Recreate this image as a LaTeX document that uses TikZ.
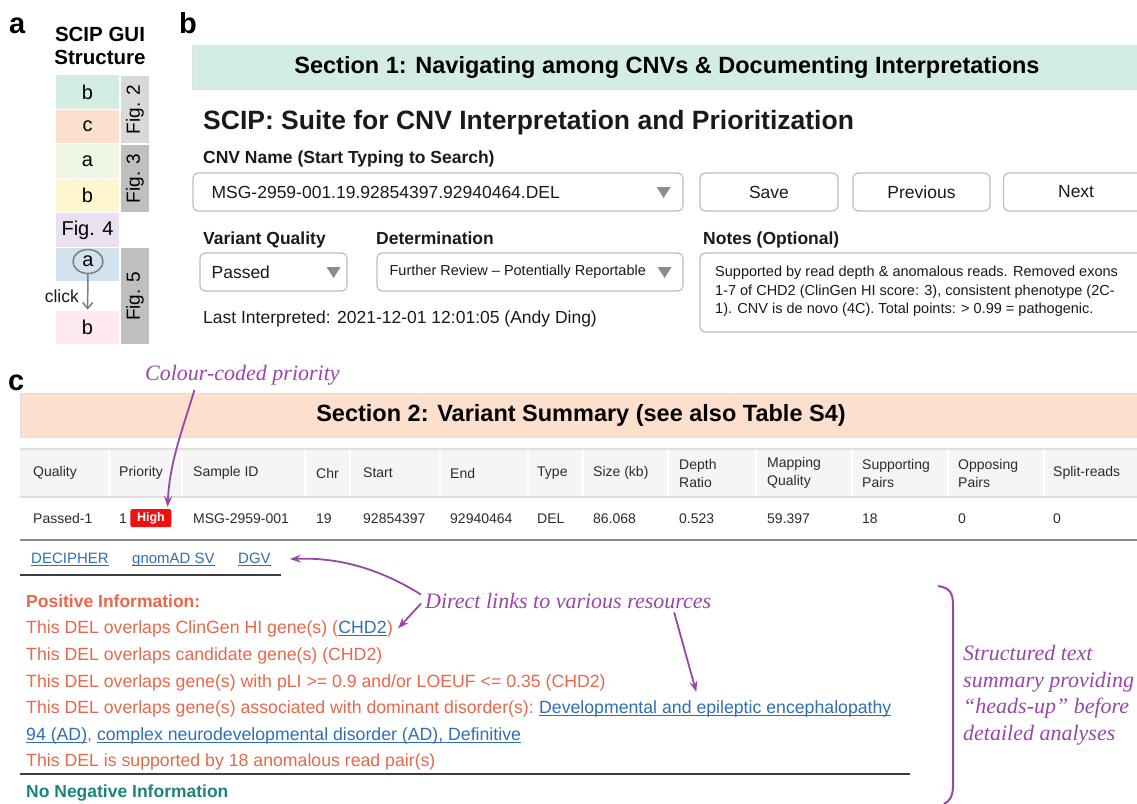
\documentclass[tikz,border=0pt]{standalone}
\usepackage{fontspec}
\setmainfont{Liberation Sans}
\newfontfamily\annfont{Liberation Serif}
\usetikzlibrary{arrows.meta,positioning,shapes.geometric}

\definecolor{secone}{HTML}{D4EDE3}
\definecolor{sectwo}{HTML}{FCDFCD}
\definecolor{pagreen}{HTML}{EFF6E3}
\definecolor{payellow}{HTML}{FDF6CF}
\definecolor{palav}{HTML}{E9E0F0}
\definecolor{pablue}{HTML}{D2E2EE}
\definecolor{papink}{HTML}{FCE9F1}
\definecolor{figlight}{HTML}{D9D9D9}
\definecolor{figdark}{HTML}{BFBFBF}
\definecolor{clickgray}{HTML}{7F7F7F}
\definecolor{uitext}{HTML}{1A1A1A}
\definecolor{tabtext}{HTML}{2B2B2B}
\definecolor{fieldgray}{HTML}{BDBDBD}
\definecolor{trigray}{HTML}{8C8C8C}
\definecolor{bargray}{HTML}{DEDEDE}
\definecolor{headgray}{HTML}{F5F5F5}
\definecolor{rulegray}{HTML}{8C8C8C}
\definecolor{darkrule}{HTML}{3C3C3C}
\definecolor{posorange}{HTML}{E8674A}
\definecolor{linkblue}{HTML}{2F6EB5}
\definecolor{negteal}{HTML}{1E8479}
\definecolor{annpurple}{HTML}{9846A8}
\definecolor{highred}{HTML}{EE1111}

% underlined link text
\newsavebox{\ulbox}
\newcommand{\linkul}[1]{\sbox{\ulbox}{#1}\rlap{\rule[-2.6pt]{\wd\ulbox}{1.1pt}}\usebox{\ulbox}}

\begin{document}
\begin{tikzpicture}[x=1pt,y=-1pt,
  every node/.style={inner sep=0pt},
  plabel/.style={font=\fontsize{29}{31}\selectfont\bfseries},
  ui/.style={font=\fontsize{17.5}{21}\selectfont, text=uitext},
  uib/.style={font=\fontsize{17.5}{21}\selectfont\bfseries, text=uitext},
  uis/.style={font=\fontsize{14.5}{18.5}\selectfont, text=uitext},
  tab/.style={font=\fontsize{14}{18}\selectfont, text=tabtext},
  field/.style={draw=fieldgray, line width=1.2pt, rounded corners=5pt, fill=white},
  tri/.style={fill=trigray},
  secbar/.style={draw=bargray, line width=1pt, minimum height=44pt, font=\fontsize{23.5}{26}\selectfont\bfseries},
  stackbox/.style={draw=white, line width=1.2pt, minimum width=65pt, minimum height=34.5pt, font=\fontsize{20}{24}\selectfont},
  figbox/.style={draw=white, line width=1.2pt, minimum height=30pt, rotate=90, font=\fontsize{19}{22}\selectfont},
  posline/.style={font=\fontsize{17.7}{21}\selectfont, text=posorange},
  poshead/.style={font=\fontsize{17.5}{21}\selectfont\bfseries, text=posorange},
  weblink/.style={font=\fontsize{15}{18}\selectfont, text=linkblue},
  note/.style={font=\annfont\itshape\fontsize{22}{26.5}\selectfont, text=annpurple},
  annarrow/.style={draw=annpurple, line width=1.8pt, -{Stealth[length=11pt,width=8pt,inset=4pt]}},
  badge/.style={fill=highred, rounded corners=2pt, minimum width=41pt, minimum height=18pt, text=white, font=\fontsize{12.5}{14}\selectfont\bfseries}]
\useasboundingbox (0,0) rectangle (1137,803);
\clip (0,0) rectangle (1137,803);

% panel a: layout of the GUI
\node[plabel, anchor=base west] (la) at (9,33) {a};
\node[font=\fontsize{20.5}{22.5}\selectfont\bfseries, align=center] (guititle) at (100,46) {SCIP GUI\\Structure};
\node[stackbox, fill=secone] (sb1) at (87.5,92) {b};
\node[stackbox, fill=sectwo] (sc1) at (87.5,126.5) {c};
\node[stackbox, fill=pagreen] (sa1) at (87.5,161) {a};
\node[stackbox, fill=payellow] (sb2) at (87.5,195.5) {b};
\node[stackbox, fill=palav] (sf4) at (87.5,230) {Fig. 4};
\node[stackbox, fill=pablue] (sa2) at (87.5,264.5) {};
\node[stackbox, fill=papink] (sb3) at (87.5,327.5) {b};
\node[figbox, fill=figlight, minimum width=69pt] (f2) at (135,109.5) {Fig. 2};
\node[figbox, fill=figdark, minimum width=69pt] (f3) at (135,178.5) {Fig. 3};
\node[figbox, fill=figdark, minimum width=97.5pt] (f5) at (135,296.25) {Fig. 5};
\node[ellipse, draw=clickgray, line width=1.5pt, minimum width=30pt, minimum height=24pt, font=\fontsize{20}{24}\selectfont] (clicka) at (88,261.5) {a};
\draw[draw=clickgray, line width=1.5pt, -{Straight Barb[length=6pt,width=10pt]}] (clicka) -- (sb3);
\node[ui, anchor=east] (clicklbl) at (79,296) {click};

% panel b: section 1
\node[plabel, anchor=base west] (lb) at (179,33) {b};
\node[secbar, fill=secone, minimum width=950pt] (sec1) at (667,67) {Section 1: Navigating among CNVs \& Documenting Interpretations};
\node[font=\fontsize{26.5}{30}\selectfont\bfseries, text=uitext, anchor=base west] (apptitle) at (203,129) {SCIP: Suite for CNV Interpretation and Prioritization};
\node[uib, anchor=base west] (cnvlbl) at (203,163) {CNV Name (Start Typing to Search)};
\node[field, minimum width=490pt, minimum height=38pt] (cnvbox) at (438,192) {};
\node[ui, anchor=west] (cnvname) at ([xshift=19pt]cnvbox.west) {MSG-2959-001.19.92854397.92940464.DEL};
\fill[tri] ([xshift=-27pt,yshift=5pt]cnvbox.east) -- ++(14,0) -- ++(-7,11) -- cycle;
\node[field, ui, minimum width=138pt, minimum height=38pt] (save) at (769,192) {Save};
\node[field, ui, minimum width=137pt, minimum height=38pt] (prev) at (921.5,192) {Previous};
\node[field, ui, minimum width=145pt, minimum height=38pt, anchor=west] (next) at (1003,192) {Next};

\node[uib, anchor=base west] (vqlbl) at (203,244) {Variant Quality};
\node[uib, anchor=base west] (detlbl) at (376,244) {Determination};
\node[uib, anchor=base west] (noteslbl) at (703,244) {Notes (Optional)};
\node[field, minimum width=147pt, minimum height=38pt] (qualbox) at (273.5,272) {};
\node[ui, anchor=west] (qualval) at ([xshift=12pt]qualbox.west) {Passed};
\fill[tri] ([xshift=-21pt,yshift=5pt]qualbox.east) -- ++(14,0) -- ++(-7,11) -- cycle;
\node[field, minimum width=306pt, minimum height=38pt] (detbox) at (530,272) {};
\node[uis, anchor=west] (detval) at ([xshift=13pt]detbox.west) {Further Review – Potentially Reportable};
\fill[tri] ([xshift=-26pt,yshift=5pt]detbox.east) -- ++(14,0) -- ++(-7,11) -- cycle;
\node[field, minimum width=445pt, minimum height=79pt] (notesbox) at (922.5,292.5) {};
\node[uis, anchor=base west] (notes1) at (715,276) {Supported by read depth \& anomalous reads. Removed exons};
\node[uis, anchor=base west] (notes2) at (715,295) {1-7 of CHD2 (ClinGen HI score: 3), consistent phenotype (2C-};
\node[uis, anchor=base west] (notes3) at (715,313) {1). CNV is de novo (4C). Total points: > 0.99 = pathogenic.};
\node[ui, anchor=base west] (lastint) at (203,323) {Last Interpreted: 2021-12-01 12:01:05 (Andy Ding)};

% panel c: section 2
\node[plabel, anchor=base west] (lc) at (8,390) {c};
\node[note, anchor=base west] (ccp) at (145,380) {Colour-coded priority};
\node[secbar, fill=sectwo, minimum width=1122pt] (sec2) at (581,415) {Section 2: Variant Summary (see also Table S4)};
\fill[headgray] (20,449) rectangle (1145,497);
\draw[bargray, line width=1.2pt] (20,449) -- (1145,449);
\draw[bargray, line width=1.2pt] (20,497) -- (1145,497);
\foreach \s in {109,182,305,350,440,528,583,668,756,852,948,1044}
  \draw[white, line width=1.5pt] (\s,450) -- (\s,496);
\foreach \x/\h/\v [count=\i] in {33/Quality/Passed-1, 119/Priority/1, 193/Sample ID/MSG-2959-001,
    316/Chr/19, 363/Start/92854397, 450/End/92940464, 537/Type/DEL, 593/Size (kb)/86.068,
    679/{Depth\\Ratio}/0.523, 767/{Mapping\\Quality}/59.397, 862/{Supporting\\Pairs}/18,
    958/{Opposing\\Pairs}/0, 1053/Split-reads/0}{
  \node[tab, anchor=west, align=left] (h\i) at (\x,473) {\h};
  \node[tab, anchor=base west] (v\i) at (\x,523) {\v};
}
\node[badge, anchor=west] (high) at ([xshift=3pt]v2.east) {High};
\draw[rulegray, line width=2pt] (20,540) -- (1145,540);

\node[weblink, anchor=base west] (decipher) at (31,563) {\linkul{DECIPHER}};
\node[weblink, anchor=base west] (gnomad) at (132,563) {\linkul{gnomAD SV}};
\node[weblink, anchor=base west] (dgv) at (238,563) {\linkul{DGV}};
\draw[darkrule, line width=1.5pt] (20,575) -- (281,575);

\node[poshead, anchor=base west] (pos0) at (26,607) {Positive Information:};
\node[posline, anchor=base west] (pos1a) at (26,633) {This DEL overlaps ClinGen HI gene(s) (};
\node[posline, text=linkblue, anchor=base west] (chd) at (pos1a.base east) {\linkul{CHD2}};
\node[posline, anchor=base west] (pos1c) at (chd.base east) {)};
\node[posline, anchor=base west] (pos2) at (26,660) {This DEL overlaps candidate gene(s) (CHD2)};
\node[posline, anchor=base west] (pos3) at (26,687) {This DEL overlaps gene(s) with pLI >= 0.9 and/or LOEUF <= 0.35 (CHD2)};
\node[posline, anchor=base west] (pos4) at (26,713) {This DEL overlaps gene(s) associated with dominant disorder(s):};
\node[posline, text=linkblue, anchor=base west] (devlink) at ([xshift=4.9pt]pos4.base east) {\linkul{Developmental and epileptic encephalopathy}};
\node[posline, anchor=base west] (pos5) at (26,740) {\textcolor{linkblue}{\linkul{94 (AD)}}, \textcolor{linkblue}{\linkul{complex neurodevelopmental disorder (AD), Definitive}}};
\node[posline, anchor=base west] (pos6) at (26,766) {This DEL is supported by 18 anomalous read pair(s)};
\draw[darkrule, line width=1.5pt] (20,774) -- (910,774);
\node[font=\fontsize{17.5}{21}\selectfont\bfseries, text=negteal, anchor=base west] (neg) at (26,797) {No Negative Information};

% annotations
\node[note, anchor=base west] (dlr) at (425,608) {Direct links to various resources};
\node[note, anchor=west, align=left] (summary) at (963,695) {Structured text\\summary providing\\“heads-up” before\\detailed analyses};
\draw[annarrow] ([xshift=-48pt,yshift=-5pt]ccp.south) .. controls +(-12,40) and +(2,-45) .. ([xshift=-4pt,yshift=2pt]high.north east);
\draw[annarrow] ([xshift=-4pt,yshift=-2pt]dlr.north west) .. controls +(-40,-25) and +(50,-2) .. ([xshift=19pt]dgv.east);
\draw[annarrow] ([xshift=-4pt,yshift=-3pt]dlr.west) -- ([xshift=5pt]pos1c.east);
\draw[annarrow] ([xshift=106pt,yshift=-4pt]dlr.south) -- ([xshift=-19pt,yshift=8pt]devlink.north);
\draw[annpurple, line width=2pt] (938,586) .. controls (951,588) and (953,594) .. (953,606) -- (953,785) .. controls (953,796) and (950,801) .. (944,804);
\end{tikzpicture}
\end{document}
